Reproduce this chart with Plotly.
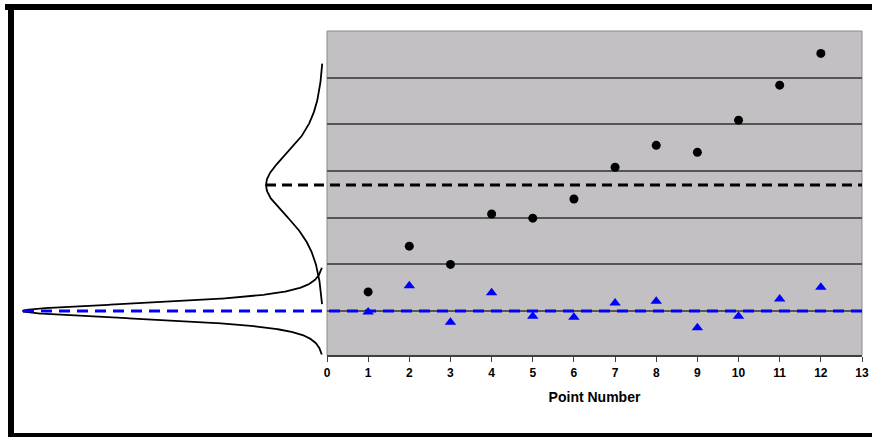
import numpy as np
import plotly.graph_objects as go

# ---------------- data ----------------
point_number = list(range(1, 13))
black_values = [0.41, 1.39, 1.00, 2.08, 1.99, 2.40, 3.08, 3.55, 3.40, 4.09, 4.84, 5.52]
blue_values = [-0.02, 0.54, -0.24, 0.39, -0.11, -0.13, 0.17, 0.21, -0.36, -0.11, 0.26, 0.51]
x_tick_values = list(range(0, 14))
x_tick_labels = [str(v) for v in x_tick_values]

black_mean = 2.70
blue_mean = 0.0

# illustrative distribution curves (Student-t shape, drawn sideways)
wide_scale, wide_peak, wide_lo, wide_hi = 0.79, 59, -2.55, 2.6
narrow_scale, narrow_peak, narrow_extent = 0.182, 302, 0.93
t_dof = 3

# ---------------- layout geometry ----------------
W, H = 872, 437
PLOT_L, PLOT_R, PLOT_T, PLOT_B = 327, 862, 31, 355.4
Y_RANGE = [-0.95, 6.0]
CURVE_BASE = -2  # curve baseline relative to plot left edge (px units of x2)


def tshape(d, s):
    return (1 + (d / s) ** 2 / t_dof) ** (-(t_dof + 1) / 2)


fig = go.Figure()

# wide curve (around black mean)
d_w = np.linspace(wide_lo, wide_hi, 400)
fig.add_trace(go.Scatter(
    x=CURVE_BASE - wide_peak * tshape(d_w, wide_scale), y=black_mean + d_w,
    mode="lines", line=dict(color="black", width=1.8),
    xaxis="x2", yaxis="y2", hoverinfo="skip", showlegend=False))

# narrow curve (around blue mean)
d_n = np.linspace(-narrow_extent, narrow_extent, 800)
fig.add_trace(go.Scatter(
    x=CURVE_BASE - narrow_peak * tshape(d_n, narrow_scale), y=blue_mean + d_n,
    mode="lines", line=dict(color="black", width=1.8),
    xaxis="x2", yaxis="y2", hoverinfo="skip", showlegend=False))

x2_end = PLOT_R - PLOT_L
# dashed mean lines
fig.add_trace(go.Scatter(
    x=[CURVE_BASE - wide_peak, x2_end], y=[black_mean, black_mean],
    mode="lines", line=dict(color="black", width=3, dash="10px,6px"),
    xaxis="x2", yaxis="y2", hoverinfo="skip", showlegend=False))
fig.add_trace(go.Scatter(
    x=[CURVE_BASE - narrow_peak, x2_end], y=[blue_mean, blue_mean],
    mode="lines", line=dict(color="#0000FF", width=3, dash="11px,7px"),
    xaxis="x2", yaxis="y2", hoverinfo="skip", showlegend=False))

# data points
fig.add_trace(go.Scatter(
    x=point_number, y=black_values, mode="markers",
    marker=dict(symbol="circle", size=9, color="black"),
    showlegend=False))
fig.add_trace(go.Scatter(
    x=point_number, y=blue_values, mode="markers",
    marker=dict(symbol="triangle-up", size=10, color="#0000FF"),
    showlegend=False))

ydom = [(H - PLOT_B) / H, (H - PLOT_T) / H]

fig.update_layout(
    width=W, height=H,
    margin=dict(l=0, r=0, t=0, b=0, pad=0),
    paper_bgcolor="white",
    plot_bgcolor="rgba(0,0,0,0)",
    showlegend=False,
    xaxis=dict(
        domain=[PLOT_L / W, PLOT_R / W], range=[0, 13], automargin=False,
        tickmode="array", tickvals=x_tick_values, ticktext=x_tick_labels,
        ticks="outside", ticklen=5, tickwidth=1, tickcolor="#404040",
        showline=True, linecolor="#404040", linewidth=1.5,
        showgrid=False, zeroline=False,
        tickfont=dict(family="Liberation Sans Narrow, Arial Narrow, Arial", size=12, color="black", weight="bold"),
        title=dict(text="<b>Point Number</b>", standoff=14,
                   font=dict(family="Liberation Sans, Arial", size=14, color="black")),
        anchor="y",
    ),
    yaxis=dict(
        domain=ydom, range=Y_RANGE, automargin=False,
        tick0=0, dtick=1, showgrid=True, gridcolor="#555555", gridwidth=1.5,
        zeroline=False, showticklabels=False, ticks="", showline=False,
        anchor="x",
    ),
    xaxis2=dict(domain=[0, 1], range=[-PLOT_L, W - PLOT_L], visible=False, anchor="y2", automargin=False),
    yaxis2=dict(domain=ydom, range=Y_RANGE, visible=False, anchor="x2", automargin=False),
    shapes=[
        dict(type="rect", xref="x domain", yref="y domain", x0=0, x1=1, y0=0, y1=1,
             fillcolor="#C2C0C3", line=dict(color="#8a8a8a", width=1), layer="below"),
        # outer frame
        dict(type="line", xref="paper", yref="paper", x0=5 / W, x1=1, y0=(H - 7) / H, y1=(H - 7) / H,
             line=dict(color="black", width=6), layer="above"),
        dict(type="line", xref="paper", yref="paper", x0=11 / W, x1=11 / W, y0=0, y1=(H - 4) / H,
             line=dict(color="black", width=6), layer="above"),
        dict(type="line", xref="paper", yref="paper", x0=8 / W, x1=1, y0=1.5 / H, y1=1.5 / H,
             line=dict(color="black", width=5), layer="above"),
    ],
)

fig.write_html("out.html")
